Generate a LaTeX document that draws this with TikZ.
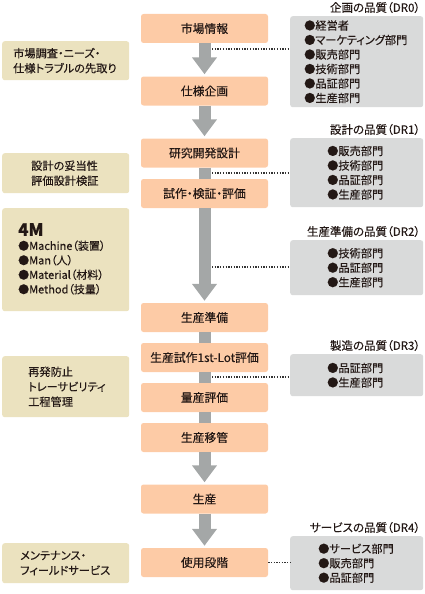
\documentclass[tikz,border=0pt]{standalone}
\usepackage{fontspec}
\setmainfont{Noto Sans CJK JP}[RawFeature=+palt, FakeBold=0.3]
\usetikzlibrary{arrows.meta}
\definecolor{peach}{HTML}{FDCBA6}
\definecolor{grayb}{HTML}{D9DADA}
\definecolor{beige}{HTML}{EBE2BF}
\definecolor{arrowg}{HTML}{A4A7A7}
\definecolor{dotc}{HTML}{333333}
\definecolor{txt}{HTML}{231815}
\newcommand{\fixedlines}{\lineskiplimit=-20pt\relax}
\tikzset{
  stepbox/.style={fill=peach, rounded corners=2.5pt, minimum width=127pt, minimum height=29pt, inner sep=0pt, text=txt, font=\fontsize{11.8}{14}\selectfont},
  deptbox/.style={fill=grayb, rounded corners=2.5pt, anchor=north west, align=left, inner ysep=0pt, text=txt, font=\fixedlines\fontsize{11.2}{14.5}\selectfont},
  notebox/.style={fill=beige, rounded corners=2.5pt, anchor=north west, align=left, inner ysep=0pt, text=txt, font=\fixedlines\fontsize{11.2}{15}\selectfont},
  notetext/.style={anchor=west, align=left, inner sep=0pt, text=txt, font=\fixedlines\fontsize{11}{14.5}\selectfont},
  drtitle/.style={anchor=east, inner sep=0pt, text=txt, font=\fontsize{11.5}{14}\selectfont},
  bigarrow/.style={draw=arrowg, line width=12pt, -{Triangle[length=17pt,width=24pt]}, shorten >=2pt},
  shaft/.style={draw=arrowg, line width=12pt},
  dotline/.style={draw=dotc, line width=1.4pt, dash pattern=on 1.3pt off 1.4pt},
}
\begin{document}
\begin{tikzpicture}[x=1pt, y=-1pt]
\useasboundingbox (0,0) rectangle (425,594);

% process steps
\node[stepbox] (s1) at (204.5,28.5) {市場情報};
\node[stepbox] (s2) at (204.5,91) {仕様企画};
\node[stepbox] (s3) at (204.5,153) {研究開発設計};
\node[stepbox] (s4) at (204.5,193.5) {試作・検証・評価};
\node[stepbox] (s5) at (204.5,317.5) {生産準備};
\node[stepbox] (s6) at (204.5,357.5) {生産試作1st-Lot評価};
\node[stepbox] (s7) at (204.5,397.5) {量産評価};
\node[stepbox] (s8) at (204.5,437.5) {生産移管};
\node[stepbox] (s9) at (204.5,499) {生産};
\node[stepbox] (s10) at (204.5,562.5) {使用段階};

% flow arrows
\draw[bigarrow] (s1.south) -- (s2.north);
\draw[bigarrow] (s2.south) -- (s3.north);
\draw[shaft] (s3.south) -- (s4.north);
\draw[bigarrow] (s4.south) -- (s5.north);
\draw[shaft] (s5.south) -- (s6.north);
\draw[shaft] (s6.south) -- (s7.north);
\draw[shaft] (s7.south) -- (s8.north);
\draw[bigarrow] (s8.south) -- (s9.north);
\draw[bigarrow] (s9.south) -- (s10.north);

% design review boxes
\node[deptbox, minimum height=91pt, text width=105pt, inner xsep=14pt] (dr0) at (290,16)
  {●経営者\\●マーケティング部門\\●販売部門\\●技術部門\\●品証部門\\●生産部門};
\node[deptbox, minimum height=69pt, text width=59pt, inner xsep=37pt] (dr1) at (290,138)
  {●販売部門\\●技術部門\\●品証部門\\●生産部門};
\node[deptbox, minimum height=55pt, text width=59pt, inner xsep=37pt] (dr2) at (290,240)
  {●技術部門\\●品証部門\\●生産部門};
\node[deptbox, minimum height=42pt, text width=59pt, inner xsep=37pt] (dr3) at (290,354)
  {●品証部門\\●生産部門};
\node[deptbox, minimum height=54pt, text width=77pt, inner xsep=28pt] (dr4) at (290,536)
  {●サービス部門\\●販売部門\\●品証部門};

\node[drtitle] (t0) at ([xshift=-3pt,yshift=8.5pt]dr0.north east) {企画の品質（DR0）};
\node[drtitle] (t1) at ([xshift=-3pt,yshift=8.5pt]dr1.north east) {設計の品質（DR1）};
\node[drtitle] (t2) at ([xshift=-3pt,yshift=8.5pt]dr2.north east) {生産準備の品質（DR2）};
\node[drtitle] (t3) at ([xshift=-3pt,yshift=8.5pt]dr3.north east) {製造の品質（DR3）};
\node[drtitle] (t4) at ([xshift=-3pt,yshift=8.5pt]dr4.north east) {サービスの品質（DR4）};

% dotted leaders
\coordinate (d0) at (212,49);
\coordinate (d1) at (212,173);
\coordinate (d2) at (212,267);
\coordinate (d3) at (212,377);
\draw[dotline] (d0) -- (d0 -| dr0.west);
\draw[dotline] (d1) -- (d1 -| dr1.west);
\draw[dotline] (d2) -- (d2 -| dr2.west);
\draw[dotline] (d3) -- (d3 -| dr3.west);
\draw[dotline] (s10.east) -- (s10.east -| dr4.west);

% notes on the left
\node[notebox, minimum height=39pt, text width=105pt, inner xsep=11pt] (la) at (2,41)
  {市場調査・ニーズ・\\仕様トラブルの先取り};
\node[notebox, minimum height=40pt, text width=69pt, inner xsep=29pt] (lb) at (2,153)
  {設計の妥当性\\評価設計検証};
\node[notebox, minimum height=103pt, minimum width=127pt] (lc) at (2,208) {};
\node[notetext, font=\fontsize{17}{17}\selectfont\bfseries] (lch) at (18,229.5) {4M};
\node[notetext] (lct) at (18,267.5)
  {●Machine（装置）\\●Man（人）\\●Material（材料）\\●Method（技量）};
\node[notebox, minimum height=61pt, text width=75pt, inner xsep=26pt] (ld) at (2,356)
  {再発防止\\トレーサビリティ\\工程管理};
\node[notebox, minimum height=40pt, text width=91pt, inner xsep=18pt] (le) at (2,543)
  {メンテナンス・\\フィールドサービス};
\end{tikzpicture}
\end{document}
